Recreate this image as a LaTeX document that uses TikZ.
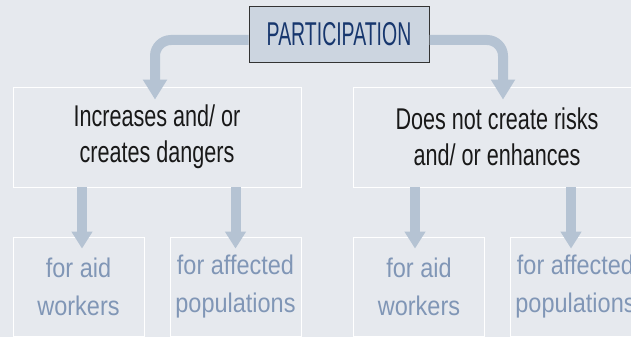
\documentclass[tikz,border=0pt]{standalone}
\usepackage{fontspec}
\setmainfont{Liberation Sans}
\newfontfamily\ftop[FakeStretch=0.59]{Liberation Sans}
\newfontfamily\fmid[FakeStretch=0.72]{Liberation Sans}
\newfontfamily\fbot[FakeStretch=0.87]{Liberation Sans}
\usetikzlibrary{arrows.meta,calc}
\definecolor{bgc}{HTML}{E6E9EE}
\definecolor{arrc}{HTML}{B5C3D3}
\definecolor{topfill}{HTML}{CCD5E0}
\definecolor{topink}{HTML}{17376E}
\definecolor{botink}{HTML}{8096B6}
\tikzset{
  midbox/.style={draw=white, line width=0.8pt, minimum width=288pt, minimum height=100pt,
    inner sep=0pt, align=center, font=\fmid\fontsize{30}{36}\selectfont, text=black!90},
  botbox/.style={draw=white, line width=0.8pt, minimum width=131pt, minimum height=99pt,
    inner sep=0pt, align=center, font=\fbot\fontsize{27}{38}\selectfont, text=botink},
  topbox/.style={draw=black!80, fill=topfill, line width=1pt, minimum width=180pt, minimum height=55pt,
    inner sep=0pt, font=\ftop\fontsize{33}{40}\selectfont, text=topink},
  bigarrow/.style={draw=arrc, line width=10pt, -{Triangle[width=23pt,length=20pt]}},
  smallarrow/.style={draw=arrc, line width=10pt, -{Triangle[width=20pt,length=17pt]}}
}
\begin{document}
\begin{tikzpicture}[x=1pt,y=-1pt]
\fill[bgc] (0,0) rectangle (631,337);
\useasboundingbox (0,0) rectangle (631,337);
\clip (0,0) rectangle (631,337);
\node[midbox] (m1) at (157,137) {Increases and/ or\\creates dangers};
\node[midbox] (m2) at (497,137) {Does not create risks\\and/ or enhances};
\node[botbox] (b1) at (78.5,286.5) {for aid\\workers};
\node[botbox] (b2) at (235.5,286.5) {for affected\\populations};
\node[botbox] (b3) at (419,286.5) {for aid\\workers};
\node[botbox] (b4) at (575.5,286.5) {for affected\\populations};
\node[topbox] (top) at (339,34.5) {PARTICIPATION};
\draw[bigarrow, rounded corners=16pt] ([yshift=-5.5pt]top.west) -| ([xshift=-2pt,yshift=-13pt]m1.north);
\draw[bigarrow, rounded corners=16pt] ([yshift=-5.5pt]top.east) -| ([xshift=6pt,yshift=-13pt]m2.north);
\draw[smallarrow] ([xshift=3.5pt]b1.north |- m1.south) -- ([xshift=3.5pt,yshift=-12pt]b1.north);
\draw[smallarrow] (b2.north |- m1.south) -- ([yshift=-12pt]b2.north);
\draw[smallarrow] ([xshift=-4pt]b3.north |- m2.south) -- ([xshift=-4pt,yshift=-12pt]b3.north);
\draw[smallarrow] ([xshift=-4.5pt]b4.north |- m2.south) -- ([xshift=-4.5pt,yshift=-12pt]b4.north);
\end{tikzpicture}
\end{document}
